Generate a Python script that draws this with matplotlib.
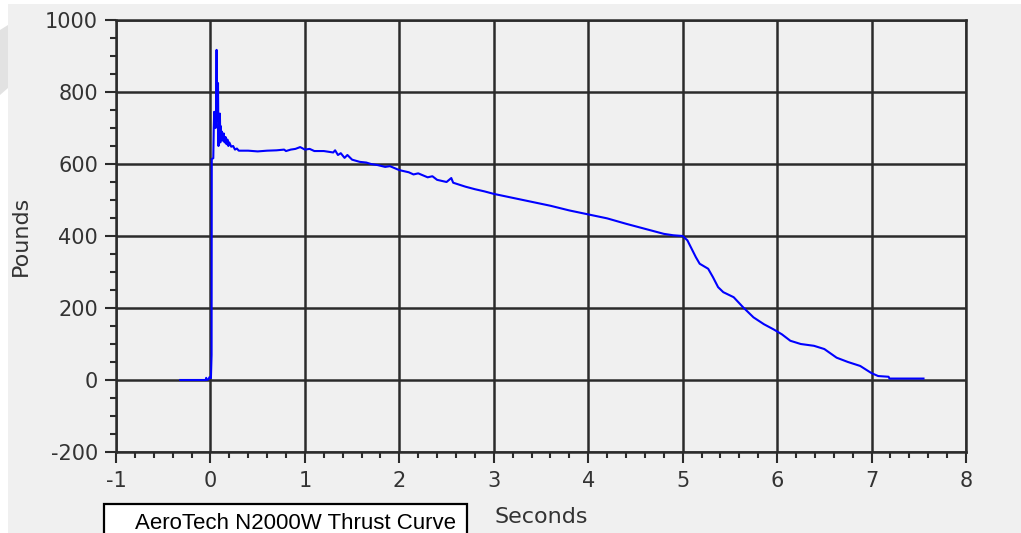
import matplotlib
matplotlib.use("Agg")
import matplotlib.pyplot as plt
from matplotlib.patches import Rectangle, Polygon
from matplotlib.ticker import MultipleLocator

# ---- data ----
time_s = [-0.32, -0.05, -0.045, -0.04, -0.02, -0.01, 0.005, 0.012, 0.014, 0.03,
          0.035, 0.04, 0.045, 0.05, 0.055, 0.06, 0.065, 0.07, 0.075, 0.08,
          0.085, 0.09, 0.095, 0.10, 0.105, 0.11, 0.115, 0.12, 0.13, 0.14,
          0.15, 0.16, 0.17, 0.18, 0.19, 0.20, 0.22, 0.24, 0.26, 0.28,
          0.30, 0.40, 0.50, 0.60, 0.70, 0.78, 0.80, 0.85, 0.90, 0.95,
          1.00, 1.05, 1.10, 1.20, 1.30, 1.32, 1.35, 1.38, 1.42, 1.45,
          1.50, 1.58, 1.65, 1.70, 1.77, 1.85, 1.90, 2.00, 2.10, 2.15,
          2.20, 2.30, 2.35, 2.40, 2.50, 2.55, 2.57, 2.70, 2.80, 2.90,
          3.00, 3.20, 3.40, 3.60, 3.80, 4.00, 4.20, 4.40, 4.60, 4.80,
          4.90, 5.00, 5.05, 5.14, 5.18, 5.27, 5.32, 5.375, 5.43, 5.54,
          5.64, 5.75, 5.86, 5.96, 6.05, 6.14, 6.25, 6.39, 6.50, 6.63,
          6.75, 6.88, 7.00, 7.07, 7.18, 7.19, 7.55]
thrust_lb = [0, 0, 6, 0, 2, 8, 5, 70, 614, 616,
             700, 745, 710, 740, 700, 760, 917, 720, 745, 825,
             650, 735, 700, 740, 660, 705, 670, 690, 665, 685,
             660, 675, 655, 668, 650, 660, 648, 650, 640, 643,
             637, 637, 635, 637, 638, 640, 636, 640, 642, 647,
             640, 642, 636, 636, 632, 638, 625, 630, 617, 625,
             612, 606, 604, 600, 597, 592, 594, 583, 577, 571,
             574, 563, 566, 556, 550, 561, 548, 537, 530, 524,
             517, 506, 495, 484, 471, 460, 449, 434, 420, 406,
             402, 400, 388, 341, 323, 309, 286, 258, 244, 230,
             202, 174, 155, 141, 127, 109, 100, 95, 86, 62,
             50, 39, 19, 11, 9, 4, 4]

x_ticks = [-1, 0, 1, 2, 3, 4, 5, 6, 7, 8]
y_ticks = [-200, 0, 200, 400, 600, 800, 1000]
x_label = "Seconds"
y_label = "Pounds"
caption = "AeroTech N2000W Thrust Curve"

# ---- figure ----
plt.rcParams['axes.unicode_minus'] = False
W, H = 1021, 533
fig = plt.figure(figsize=(W / 100, H / 100), dpi=100, facecolor='#f0f0f0')

# white margins top / left, faint watermark shape
fig.patches.append(Rectangle((0, 1 - 4 / H), 1, 4 / H, transform=fig.transFigure,
                             facecolor='white', edgecolor='none', zorder=-2))
fig.patches.append(Rectangle((0, 0), 8 / W, 1, transform=fig.transFigure,
                             facecolor='white', edgecolor='none', zorder=-2))
fig.patches.append(Polygon([(0, 1 - 30 / H), (8 / W, 1 - 25 / H), (8 / W, 1 - 88 / H), (0, 1 - 95 / H)],
                           closed=True, transform=fig.transFigure,
                           facecolor='#e2e2e2', edgecolor='none', zorder=-1))

ax = fig.add_axes([116 / W, 1 - 452 / H, (966 - 116) / W, (452 - 20) / H])
ax.set_facecolor('#f0f0f0')

gc = '#2b2b2b'
ax.plot(time_s, thrust_lb, color='#0000ff', lw=1.5, zorder=3)

ax.set_xlim(-1, 8)
ax.set_ylim(-200, 1000)
ax.set_xticks(x_ticks)
ax.set_yticks(y_ticks)
ax.set_xticklabels([str(v) for v in x_ticks])
ax.set_yticklabels([str(v) for v in y_ticks])
ax.xaxis.set_minor_locator(MultipleLocator(0.2))
ax.yaxis.set_minor_locator(MultipleLocator(50))

ax.grid(True, which='major', color=gc, lw=1.8, zorder=1)
ax.set_axisbelow(True)
for s in ax.spines.values():
    s.set_color(gc)
    s.set_linewidth(1.8)

ax.tick_params(axis='both', which='major', length=8, width=1.5, color=gc,
               labelcolor='#333333', labelsize=15, direction='out')
ax.tick_params(axis='both', which='minor', length=4, width=1.5, color=gc, direction='out')
ax.tick_params(axis='x', which='major', pad=6)
ax.tick_params(axis='y', which='major', pad=5)

for lab in ax.get_xticklabels() + ax.get_yticklabels():
    lab.set_family('DejaVu Sans')

ax.set_xlabel(x_label, fontsize=16, color='#333333', labelpad=11)
ax.set_ylabel(y_label, fontsize=16, color='#333333')
ax.yaxis.set_label_coords(-(116 - 31) / (966 - 116), 0.5)
ax.yaxis.label.set_va('bottom')

# caption box
fig.patches.append(Rectangle((104 / W, -10 / H), 363 / W, (29 + 10) / H,
                             transform=fig.transFigure, facecolor='white',
                             edgecolor='black', lw=1.6, zorder=5))
fig.text(135 / W, 4 / H, caption, family='Liberation Sans', fontsize=16,
         color='black', ha='left', va='baseline', zorder=6)

fig.savefig('out.png', dpi=100, facecolor=fig.get_facecolor())
